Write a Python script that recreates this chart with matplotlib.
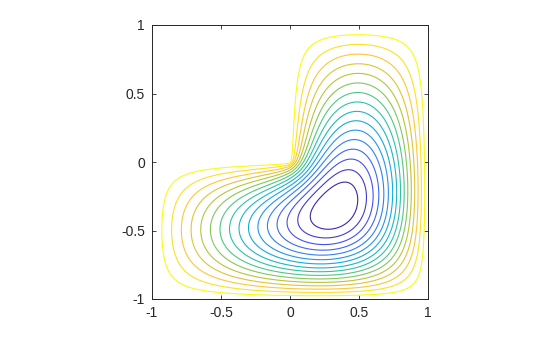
import numpy as np
import matplotlib
matplotlib.use("Agg")
import matplotlib.pyplot as plt
from matplotlib.colors import LinearSegmentedColormap

plt.rcParams["font.family"] = ["Liberation Sans", "DejaVu Sans"]
plt.rcParams["axes.unicode_minus"] = False

# parula(8) anchor colours
parula_anchors = [
    (0.2422, 0.1504, 0.6603),
    (0.2810, 0.3228, 0.9579),
    (0.1786, 0.5289, 0.9682),
    (0.0689, 0.6948, 0.8394),
    (0.2161, 0.7843, 0.5923),
    (0.6720, 0.7793, 0.2227),
    (0.9970, 0.7659, 0.2199),
    (0.9769, 0.9839, 0.0805),
]

# 16 contour levels of the normalised field (min = -1, boundary = 0)
n_levels = 16

tick_values = [-1, -0.5, 0, 0.5, 1]
tick_labels = ["-1", "-0.5", "0", "0.5", "1"]

# field: first eigenfunction of the Laplacian on the L-shaped membrane
n = 201
g = np.linspace(-1, 1, n)
X, Y = np.meshgrid(g, g)
h = g[1] - g[0]
inside = np.zeros(X.shape, dtype=bool)
inside[1:-1, 1:-1] = True
inside &= ~((X <= 1e-9) & (Y >= -1e-9))


def lap(u):
    out = 4.0 * u
    out[1:-1, 1:-1] -= u[:-2, 1:-1] + u[2:, 1:-1] + u[1:-1, :-2] + u[1:-1, 2:]
    out /= h * h
    out[~inside] = 0.0
    return out


def cg(b, x0, tol=1e-9, maxit=5000):
    x = x0.copy()
    r = b - lap(x)
    p = r.copy()
    rr = np.sum(r * r)
    bn = np.sqrt(np.sum(b * b))
    for _ in range(maxit):
        if np.sqrt(rr) < tol * bn:
            break
        Ap = lap(p)
        alpha = rr / np.sum(p * Ap)
        x += alpha * p
        r -= alpha * Ap
        rr_new = np.sum(r * r)
        p = r + (rr_new / rr) * p
        rr = rr_new
    return x


u = cg(inside.astype(float), np.zeros(X.shape))
u /= np.sqrt(np.sum(u * u))
for _ in range(40):
    lam = np.sum(u * lap(u))
    v = cg(u, u / lam, tol=1e-8)
    v /= np.sqrt(np.sum(v * v))
    if np.max(np.abs(v - u)) < 1e-9:
        u = v
        break
    u = v

Z = -u / u.max()
levels = np.linspace(-1, 0, n_levels + 2)[1:-1]

cmap = LinearSegmentedColormap.from_list("parula", parula_anchors)

fig = plt.figure(figsize=(5.6, 3.37), dpi=100)
ax = fig.add_axes([152 / 560, 1 - 299 / 337, 276 / 560, 274 / 337])
ax.contour(X, Y, Z, levels=levels, cmap=cmap, linewidths=0.8)
ax.set_xlim(-1, 1)
ax.set_ylim(-1, 1)
ax.set_xticks(tick_values)
ax.set_xticklabels(tick_labels)
ax.set_yticks(tick_values)
ax.set_yticklabels(tick_labels)
ax.tick_params(direction="in", top=True, right=True, length=3, width=0.6,
               labelsize=10, colors="#262626", pad=5)
for s in ax.spines.values():
    s.set_linewidth(0.7)
    s.set_color("#262626")

fig.savefig("out.png", dpi=100)
